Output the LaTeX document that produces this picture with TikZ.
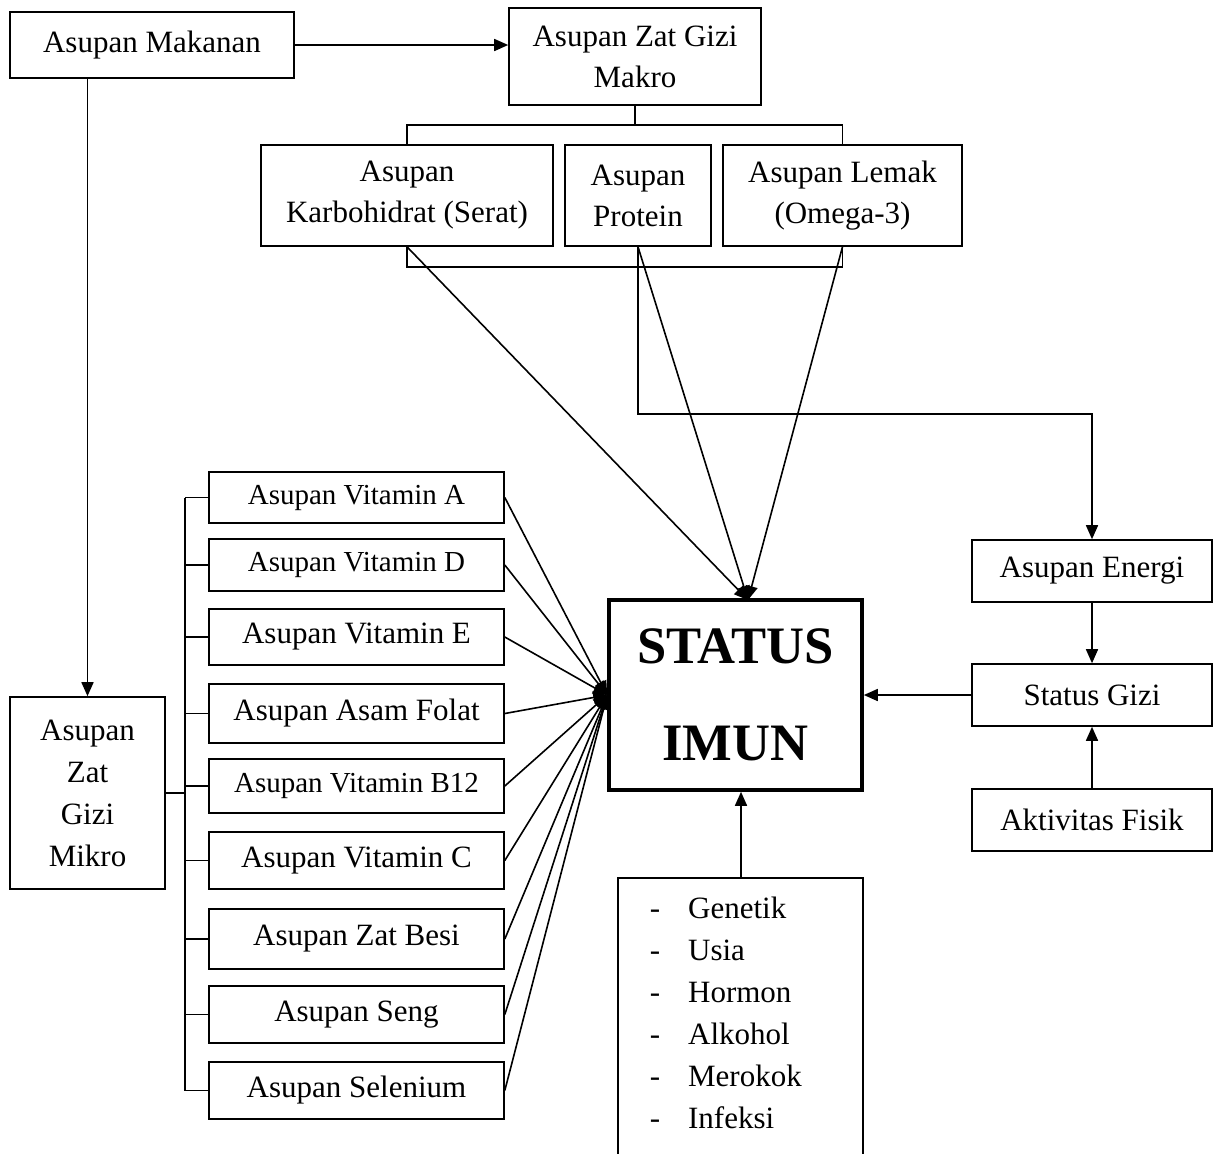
\documentclass[tikz,border=0pt]{standalone}
\usepackage{fontspec}
\setmainfont{Liberation Serif}
\usepackage{tikz}
\usetikzlibrary{arrows.meta,calc}

\tikzset{
box/.style={draw,inner sep=0pt,align=center,font=\fontsize{15.5}{20.5}\selectfont},
vitbox/.style={box,minimum width=147.5pt},
sidebox/.style={box,minimum width=120pt,minimum height=31pt},
arr/.style={-{Triangle[length=7pt,width=6pt]}}
}

\begin{document}
\begin{tikzpicture}[x=0.5pt,y=-0.5pt,line width=0.8pt]
\clip (0,0) rectangle (1215,1153);
\node[box,minimum width=142pt,minimum height=33pt] (makanan) at (152,45) {Asupan Makanan};
\node[box,minimum width=126pt,minimum height=48.5pt] (makro) at (635,56.5) {Asupan Zat Gizi\\Makro};
\node[box,minimum width=146pt,minimum height=50.5pt] (karbo) at (407,195.5) {Asupan\\Karbohidrat (Serat)};
\node[box,minimum width=73pt,minimum height=50.5pt] (protein) at (638,195.5) {Asupan\\Protein};
\node[box,minimum width=119.5pt,minimum height=50.5pt] (lemak) at (842.5,195.5) {Asupan Lemak\\(Omega-3)};
\node[box,minimum width=77.5pt,minimum height=96pt,font=\fontsize{15.5}{21}\selectfont] (mikro) at (87.5,793) {Asupan\\Zat\\Gizi\\Mikro};
\node[draw,line width=1.8pt,minimum width=126.5pt,minimum height=95pt,align=center,
  font=\bfseries\fontsize{26.3}{48.5}\selectfont] (imun) at (735.5,695) {STATUS\\IMUN};
\node[sidebox] (energi) at (1092,571) {Asupan Energi};
\node[sidebox] (gizi) at (1092,695) {Status Gizi};
\node[sidebox] (fisik) at (1092,820) {Aktivitas Fisik};
\node[draw,anchor=north west,inner xsep=16pt,inner ysep=5.8pt,text width=90.5pt,align=left,
  text height=14.7pt,text depth=140pt,font=\fontsize{15.5}{21}\selectfont] (faktor) at (617,877)
  {\begin{tabular}[t]{@{}l@{\hspace{14pt}}l@{}}
  - & Genetik\\ - & Usia\\ - & Hormon\\ - & Alkohol\\ - & Merokok\\ - & Infeksi
  \end{tabular}};
\foreach \n/\y/\h/\s/\t in {vita/497.5/51/14.5/{Asupan Vitamin A},vitd/565/52/14.5/{Asupan Vitamin D},
  vite/637/56/15.5/{Asupan Vitamin E},folat/713.5/59/15.5/{Asupan Asam Folat},
  vitb/786/54/14.5/{Asupan Vitamin B12},vitc/860.5/57/15.5/{Asupan Vitamin C},
  besi/939/60/15.5/{Asupan Zat Besi},seng/1014.5/57/15.5/{Asupan Seng},selen/1090.5/57/15.5/{Asupan Selenium}}
  \node[vitbox,minimum height=\h*0.5pt,font=\fontsize{\s}{20}\selectfont] (\n) at (356.5,\y) {\t};

\coordinate (barup) at (0,125);
\coordinate (bardown) at (0,267);
\coordinate (brk) at (185,0);
\coordinate (intop) at (748,600);

\draw[arr] (makanan.east) -- (makanan.east -| makro.west);
\draw[arr] (mikro.north |- makanan.south) -- (mikro.north);
\draw (makro.south) -- (makro.south |- barup);
\draw (karbo.north) -- (karbo.north |- barup) -- (lemak.north |- barup) -- (lemak.north);
\draw (karbo.south) -- (karbo.south |- bardown) -- (lemak.south |- bardown) -- (lemak.south);
\foreach \n in {karbo,protein,lemak}
  \draw[arr] (\n.south) -- (intop);
\draw[arr] (protein.south) -- ($(protein.south)+(0,167)$) -| (energi.north);
\draw[arr] (energi) -- (gizi);
\draw[arr] (fisik) -- (gizi);
\draw[arr] (gizi) -- (imun);
\draw[arr] (faktor.north -| 741,0) -- (imun.south -| 741,0);
\draw (mikro.east) -- (mikro.east -| brk);
\draw (vita.west -| brk) -- (selen.west -| brk);
\foreach \n in {vita,vitd,vite,folat,vitb,vitc,besi,seng,selen}{
  \draw (\n.west -| brk) -- (\n.west);
  \draw[arr] (\n.east) -- (imun.west);
}
\end{tikzpicture}
\end{document}
